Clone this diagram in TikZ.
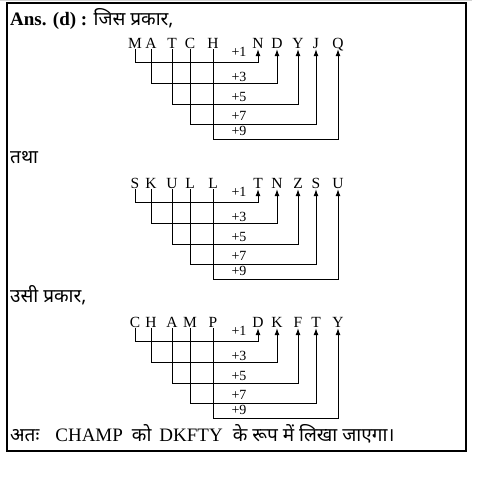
\documentclass[tikz,border=0pt]{standalone}
\usepackage{fontspec}
\setmainfont{Liberation Serif}
\newfontfamily\deva[Script=Devanagari]{Noto Sans}
\usetikzlibrary{arrows.meta}
\newcommand\codediag[4]{%
  \foreach \L/\x [count=\i] in {#2} \node[ltr] (#1i\i) at (\x,48+#4) {\L};
  \foreach \L/\x [count=\i] in {#3} \node[ltr] (#1o\i) at (\x,48+#4) {\L};
  \foreach \y/\ly/\lab [count=\i] in {62/52/+1,83/77/+3,104/97/+5,124/116/+7,139/130.5/+9} {
    \coordinate (#1h\i) at (0,\y+#4);
    \node[lbl] (#1l\i) at (239,\ly+#4) {\lab};
    \draw[arr] (#1i\i.south) -- (#1i\i.south |- #1h\i) -- (#1o\i.south |- #1h\i) -- (#1o\i.south);
  }%
}
\begin{document}
\begin{tikzpicture}[x=1pt,y=-1pt,
  ltr/.style={font=\fontsize{15.5}{15.5}\selectfont, inner sep=1pt, text depth=0pt, anchor=base},
  lbl/.style={font=\fontsize{14}{14}\selectfont, inner sep=0pt},
  txt/.style={font=\fontsize{19}{22}\selectfont, inner sep=0pt, anchor=base west},
  conn/.style={line width=0.9pt},
  arr/.style={conn, -{Latex[length=7pt,width=5pt]}}]
\useasboundingbox (0,0) rectangle (497,483);
\draw[gray!35, line width=1pt] (0,0.5) -- (472,0.5);
\draw[line width=1.2pt] (7,3) rectangle (466,451);

\node[txt] (t1) at (10,25) {\textbf{Ans. (d) :} {\deva जिस प्रकार,}};
\node[txt] (t2) at (10,163) {\deva तथा};
\node[txt] (t3) at (10,302) {\deva उसी प्रकार,};
\node[txt] (t4) at (10,441) {{\deva अतः}\hspace{16pt}CHAMP\hspace{9pt}{\deva को}\hspace{8pt}DKFTY\hspace{10pt}{\deva के रूप में लिखा जाएगा।}};

\codediag{a}{M/135,A/151,T/172,C/190,H/213}{N/258,D/277,Y/298,J/316,Q/338}{0}
\codediag{b}{S/135,K/151,U/172,L/190,L/213}{T/258,N/277,Z/298,S/316,U/338}{140}
\codediag{c}{C/135,H/151,A/172,M/190,P/213}{D/258,K/277,F/298,T/316,Y/338}{279}
\end{tikzpicture}
\end{document}
